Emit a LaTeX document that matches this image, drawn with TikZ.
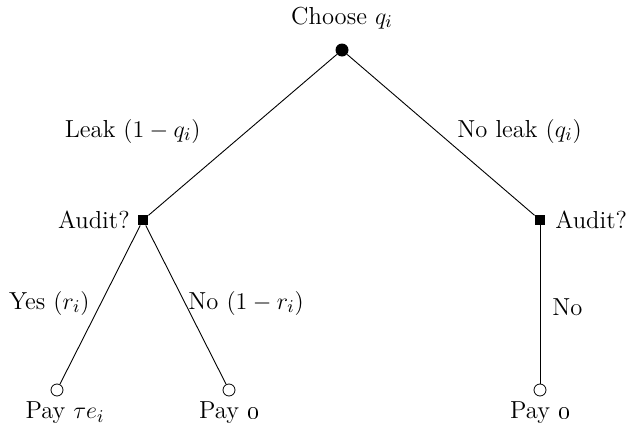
\documentclass[tikz,border=0pt]{standalone}
\begin{document}
\begin{tikzpicture}[x=0.5pt,y=-0.5pt,
  every node/.style={font=\fontsize{12.3}{14}\selectfont},
  chance/.style={circle,fill=black,inner sep=0pt,minimum size=6.5pt},
  decision/.style={rectangle,fill=black,inner sep=0pt,minimum size=5pt},
  leaf/.style={circle,draw=black,fill=white,inner sep=0pt,minimum size=6pt,line width=0.4pt},
  txt/.style={inner sep=0pt},
  edge/.style={line width=0.45pt}]
\useasboundingbox (0,0) rectangle (628,434);
\node[chance] (root) at (342,50) {};
\node[decision] (la) at (143,220) {};
\node[decision] (ra) at (540,220) {};
\node[leaf] (l1) at (57,390) {};
\node[leaf] (l2) at (229,390) {};
\node[leaf] (l3) at (540,390) {};
\draw[edge] (root) -- (la);
\draw[edge] (root) -- (ra);
\draw[edge] (la) -- (l1);
\draw[edge] (la) -- (l2);
\draw[edge] (ra) -- (l3);
\node[txt] (t0) at (342,18) {Choose $q_i$};
\node[txt,anchor=east] (t1) at (201,131) {Leak $(1-q_i)$};
\node[txt,anchor=west] (t2) at (457,131) {No leak $(q_i)$};
\node[txt,anchor=east] (t3) at (130,220) {Audit?};
\node[txt,anchor=west] (t4) at (555,220) {Audit?};
\node[txt,anchor=east] (t5) at (90,303) {Yes $(r_i)$};
\node[txt,anchor=west] (t6) at (188,303) {No $(1-r_i)$};
\node[txt,anchor=west] (t7) at (552,307) {No};
\node[txt] (t8) at (65,413) {Pay $\tau e_i$};
\node[txt] (t9) at (229,413) {Pay \oldstylenums{0}};
\node[txt] (t10) at (540,413) {Pay \oldstylenums{0}};
\end{tikzpicture}
\end{document}
